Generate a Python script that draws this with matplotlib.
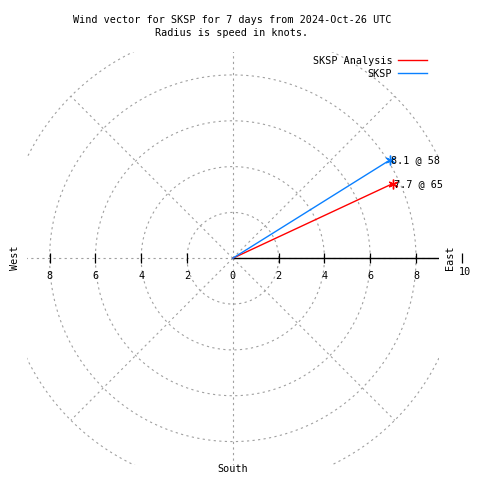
import numpy as np
import matplotlib.pyplot as plt

plt.rcParams['font.family'] = ['DejaVu Sans Mono']
plt.rcParams['font.size'] = 7.3

# wind vectors: speed in knots, direction in degrees (from north, clockwise)
names = ['SKSP Analysis', 'SKSP']
speeds = [7.7, 8.1]
directions = [65, 58]
colors = ['#ff0000', '#0a80ff']

rings = [2, 4, 6, 8, 10]
spokes = [0, 45, 90, 135, 180, 225, 270, 315]
east_ticks = [0, 2, 4, 6, 8]
west_ticks = [-8, -6, -4, -2]

title = "Wind vector for SKSP for 7 days from 2024-Oct-26 UTC\nRadius is speed in knots."

fig = plt.figure(figsize=(4.8, 4.8), dpi=100)
ax = fig.add_axes([26.7/480, 1-464.5/480, 412.2/480, 412.5/480])
ax.set_xlim(-9, 9)
ax.set_ylim(-9, 9)
ax.axis('off')

grid_kw = dict(color='#a0a0a0', lw=0.8, ls=(0, (2, 3)))
t = np.linspace(0, 2*np.pi, 400)
for r in rings:
    ax.plot(r*np.cos(t), r*np.sin(t), **grid_kw)
for a in spokes:
    ax.plot([0, 10*np.cos(np.radians(a))], [0, 10*np.sin(np.radians(a))], **grid_kw)

# solid east axis with ticks
ax.plot([0, 9], [0, 0], color='black', lw=1.0)
ax.plot(west_ticks + east_ticks[1:] + [10], [0]*9, ls='none', marker='|',
        color='black', ms=7.5, mew=0.9, clip_on=False)
for v in west_ticks + east_ticks:
    ax.annotate(str(abs(v)), xy=(v, 0), xytext=(0, -12.5), textcoords='offset points',
                ha='center', va='center')
ax.annotate('10', xy=(10, 0), xytext=(2, -10), textcoords='offset points',
            ha='center', va='center', annotation_clip=False)

ax.text(9.5, 0.0, 'East', rotation=90, ha='center', va='center', clip_on=False)
ax.text(-9.5, 0.0, 'West', rotation=90, ha='center', va='center', clip_on=False)
ax.text(0, -9.2, 'South', ha='center', va='center', clip_on=False)

handles = []
for name, s, d, c in zip(names, speeds, directions, colors):
    th = np.radians(90 - d)
    x, y = s*np.cos(th), s*np.sin(th)
    ln, = ax.plot([0, x], [0, y], color=c, lw=1.0, label=name)
    ax.plot([x], [y], ls='none', marker=(6, 2, 0), ms=7, mew=1.0, color=c)
    ax.annotate(f'{s} @ {d}', xy=(x, y), xytext=(1, 0), textcoords='offset points',
                ha='left', va='center')
    handles.append(ln)

fig.legend(handles=handles, labels=names, markerfirst=False, frameon=False,
           loc='upper right', bbox_to_anchor=(426.7/480, 1-56/480),
           borderpad=0, borderaxespad=0, handlelength=2.8, handletextpad=0.6,
           labelspacing=0.25)

fig.text(232/480, 1-26.5/480, title, ha='center', va='center', linespacing=1.3)

fig.savefig('out.png', dpi=100)
